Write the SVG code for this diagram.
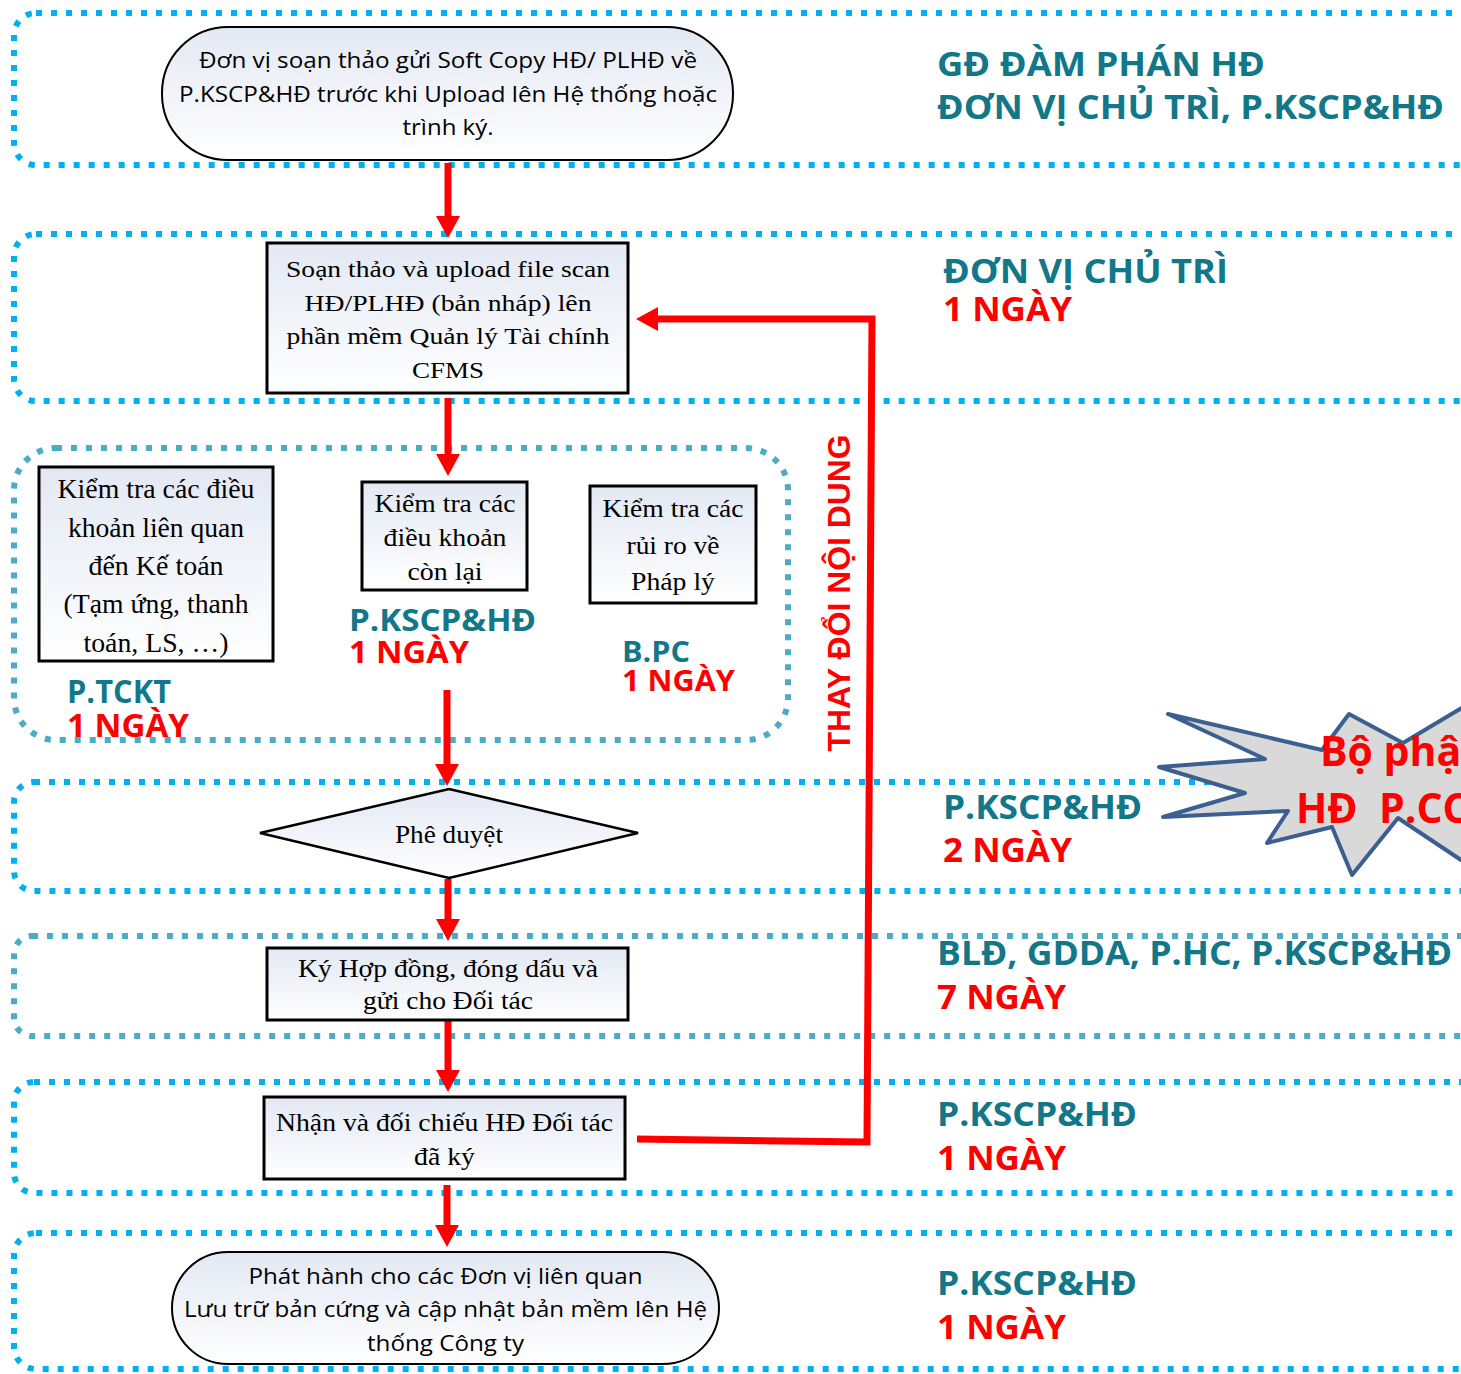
<svg xmlns="http://www.w3.org/2000/svg" width="1461" height="1374" viewBox="0 0 1461 1374">
  <defs>
    <linearGradient id="nodeFill" x1="0" y1="0" x2="0" y2="1">
      <stop offset="0" stop-color="#E3E8F3"/>
      <stop offset="1" stop-color="#FFFFFF"/>
    </linearGradient>
    <marker id="arrowHead" viewBox="0 0 22 24" refX="4" refY="12" markerWidth="22" markerHeight="24" markerUnits="userSpaceOnUse" orient="auto">
      <path d="M0,0 L22,12 L0,24 z" fill="#FF0000"/>
    </marker>
    <style>
      .band { fill: none; stroke-width: 6; stroke-dasharray: 6 9; }
      .bright { stroke: #00B0F0; }
      .teal { stroke: #4BACC6; }
      .node { fill: url(#nodeFill); stroke: #000; }
      .sans { font-family: "Open Sans", "Noto Sans", "DejaVu Sans", sans-serif; font-size: 21px; fill: #000; }
      .serif { font-family: "Liberation Serif", "DejaVu Serif", serif; fill: #000; }
      .lbl { font-family: "Open Sans", "Noto Sans", "DejaVu Sans", sans-serif; font-weight: bold; }
      .who { fill: #127789; }
      .days { fill: #FF0000; }
      .flow { fill: none; stroke: #FF0000; stroke-width: 7; marker-end: url(#arrowHead); }
    </style>
  </defs>

  <rect width="1461" height="1374" fill="#FFFFFF"/>

  <!-- swimlane bands -->
  <g id="bands">
    <rect class="band bright" x="14" y="13" width="1500" height="152" rx="22"/>
    <rect class="band bright" x="14" y="234" width="1500" height="167" rx="22"/>
    <rect class="band teal" x="14" y="448" width="774" height="292" rx="42"/>
    <rect class="band bright" x="14" y="782" width="1500" height="109" rx="20"/>
    <rect class="band teal" x="14" y="936" width="1500" height="100" rx="18"/>
    <rect class="band bright" x="14" y="1082" width="1500" height="111" rx="20"/>
    <rect class="band bright" x="14" y="1233" width="1500" height="136" rx="22"/>
  </g>

  <!-- lane labels -->
  <g id="lane-labels" class="lbl" font-size="34">
    <text class="who" x="937" y="76" textLength="328" lengthAdjust="spacingAndGlyphs">GĐ ĐÀM PHÁN HĐ</text>
    <text class="who" x="937" y="119" textLength="507" lengthAdjust="spacingAndGlyphs">ĐƠN VỊ CHỦ TRÌ, P.KSCP&amp;HĐ</text>

    <text class="who" x="943" y="283" textLength="285" lengthAdjust="spacingAndGlyphs">ĐƠN VỊ CHỦ TRÌ</text>
    <text class="days" x="943" y="321" textLength="129" lengthAdjust="spacingAndGlyphs">1 NGÀY</text>

    <text class="who" x="67" y="703" font-size="32" textLength="104" lengthAdjust="spacingAndGlyphs">P.TCKT</text>
    <text class="days" x="67" y="737" font-size="32" textLength="122" lengthAdjust="spacingAndGlyphs">1 NGÀY</text>

    <text class="who" x="349" y="631" font-size="31" textLength="187" lengthAdjust="spacingAndGlyphs">P.KSCP&amp;HĐ</text>
    <text class="days" x="349" y="663" font-size="31" textLength="120" lengthAdjust="spacingAndGlyphs">1 NGÀY</text>

    <text class="who" x="622" y="662" font-size="29" textLength="68" lengthAdjust="spacingAndGlyphs">B.PC</text>
    <text class="days" x="622" y="691" font-size="29" textLength="113" lengthAdjust="spacingAndGlyphs">1 NGÀY</text>

    <text class="who" x="943" y="819" textLength="199" lengthAdjust="spacingAndGlyphs">P.KSCP&amp;HĐ</text>
    <text class="days" x="943" y="862" textLength="129" lengthAdjust="spacingAndGlyphs">2 NGÀY</text>

    <text class="who" x="937" y="965" textLength="515" lengthAdjust="spacingAndGlyphs">BLĐ, GDDA, P.HC, P.KSCP&amp;HĐ</text>
    <text class="days" x="937" y="1009" textLength="129" lengthAdjust="spacingAndGlyphs">7 NGÀY</text>

    <text class="who" x="937" y="1126" textLength="200" lengthAdjust="spacingAndGlyphs">P.KSCP&amp;HĐ</text>
    <text class="days" x="937" y="1170" textLength="129" lengthAdjust="spacingAndGlyphs">1 NGÀY</text>

    <text class="who" x="937" y="1295" textLength="200" lengthAdjust="spacingAndGlyphs">P.KSCP&amp;HĐ</text>
    <text class="days" x="937" y="1339" textLength="129" lengthAdjust="spacingAndGlyphs">1 NGÀY</text>
  </g>

  <!-- callout burst -->
  <g id="callout">
    <path d="M1168,714 L1322,750 L1349,714 L1403,743 L1475,700 L1475,868 L1461,860 L1398,818 L1352,875 L1332,827 L1267,843 L1288,811 L1163,817 L1245,793 L1159,767 L1265,759 Z" fill="#D9D9D9" stroke="#3B5F8E" stroke-width="4" stroke-linejoin="round"/>
    <text class="lbl days" x="1320" y="766" font-size="41">Bộ phận</text>
    <text class="lbl days" x="1296" y="823" font-size="41" xml:space="preserve">HĐ  P.CC</text>
  </g>

  <!-- connectors -->
  <g id="connectors">
    <line class="flow" x1="448" y1="163" x2="448" y2="220"/>
    <line class="flow" x1="448" y1="398" x2="448" y2="458"/>
    <line class="flow" x1="447" y1="690" x2="447" y2="768"/>
    <line class="flow" x1="448" y1="879" x2="448" y2="923"/>
    <line class="flow" x1="448" y1="1021" x2="448" y2="1074"/>
    <line class="flow" x1="447" y1="1185" x2="447" y2="1229"/>
    <polyline class="flow" points="637,1139 867,1142 872,319 654,319"/>
    <text x="850" y="593" transform="rotate(-90 850 593)" text-anchor="middle" font-family="'Liberation Sans', Arial, sans-serif" font-weight="bold" font-size="31" fill="#FF0000" textLength="317" lengthAdjust="spacingAndGlyphs">THAY ĐỔI NỘI DUNG</text>
  </g>

  <!-- process nodes -->
  <g id="n-send-softcopy">
    <rect class="node" x="162" y="27" width="571" height="133" rx="66" stroke-width="2"/>
    <g class="sans" text-anchor="middle">
      <text x="448" y="68" textLength="498" lengthAdjust="spacingAndGlyphs">Đơn vị soạn thảo gửi Soft Copy HĐ/ PLHĐ về</text>
      <text x="448" y="102" textLength="538" lengthAdjust="spacingAndGlyphs">P.KSCP&amp;HĐ trước khi Upload lên Hệ thống hoặc</text>
      <text x="448" y="135" textLength="91" lengthAdjust="spacingAndGlyphs">trình ký.</text>
    </g>
  </g>

  <g id="n-upload-cfms">
    <rect class="node" x="267" y="243" width="361" height="150" stroke-width="3"/>
    <g class="serif" text-anchor="middle" font-size="24">
      <text x="448" y="277" textLength="324" lengthAdjust="spacingAndGlyphs">Soạn thảo và upload file scan</text>
      <text x="448" y="311" textLength="287" lengthAdjust="spacingAndGlyphs">HĐ/PLHĐ (bản nháp) lên</text>
      <text x="448" y="344" textLength="323" lengthAdjust="spacingAndGlyphs">phần mềm Quản lý Tài chính</text>
      <text x="448" y="378" textLength="72" lengthAdjust="spacingAndGlyphs">CFMS</text>
    </g>
  </g>

  <g id="n-check-accounting">
    <rect class="node" x="39" y="467" width="234" height="194" stroke-width="3"/>
    <g class="serif" text-anchor="middle" font-size="27">
      <text x="156" y="498" textLength="197" lengthAdjust="spacingAndGlyphs">Kiểm tra các điều</text>
      <text x="156" y="537" textLength="176" lengthAdjust="spacingAndGlyphs">khoản liên quan</text>
      <text x="156" y="575" textLength="135" lengthAdjust="spacingAndGlyphs">đến Kế toán</text>
      <text x="156" y="613" textLength="185" lengthAdjust="spacingAndGlyphs">(Tạm ứng, thanh</text>
      <text x="156" y="652" textLength="145" lengthAdjust="spacingAndGlyphs">toán, LS, …)</text>
    </g>
  </g>

  <g id="n-check-remaining">
    <rect class="node" x="362" y="482" width="165" height="108" stroke-width="3"/>
    <g class="serif" text-anchor="middle" font-size="26">
      <text x="445" y="512" textLength="141" lengthAdjust="spacingAndGlyphs">Kiểm tra các</text>
      <text x="445" y="546" textLength="123" lengthAdjust="spacingAndGlyphs">điều khoản</text>
      <text x="445" y="580" textLength="75" lengthAdjust="spacingAndGlyphs">còn lại</text>
    </g>
  </g>

  <g id="n-check-legal">
    <rect class="node" x="590" y="486" width="166" height="117" stroke-width="3"/>
    <g class="serif" text-anchor="middle" font-size="26">
      <text x="673" y="517" textLength="141" lengthAdjust="spacingAndGlyphs">Kiểm tra các</text>
      <text x="673" y="554" textLength="93" lengthAdjust="spacingAndGlyphs">rủi ro về</text>
      <text x="673" y="590" textLength="84" lengthAdjust="spacingAndGlyphs">Pháp lý</text>
    </g>
  </g>

  <g id="n-approve">
    <polygon class="node" points="449,789 638,833 449,878 260,833" stroke-width="2.5"/>
    <text class="serif" x="449" y="843" font-size="25" text-anchor="middle" textLength="108" lengthAdjust="spacingAndGlyphs">Phê duyệt</text>
  </g>

  <g id="n-sign">
    <rect class="node" x="267" y="948" width="361" height="72" stroke-width="3"/>
    <g class="serif" text-anchor="middle" font-size="25">
      <text x="448" y="977" textLength="300" lengthAdjust="spacingAndGlyphs">Ký Hợp đồng, đóng dấu và</text>
      <text x="448" y="1009" textLength="170" lengthAdjust="spacingAndGlyphs">gửi cho Đối tác</text>
    </g>
  </g>

  <g id="n-receive">
    <rect class="node" x="264" y="1097" width="361" height="82" stroke-width="3"/>
    <g class="serif" text-anchor="middle" font-size="25">
      <text x="444.5" y="1131" textLength="337" lengthAdjust="spacingAndGlyphs">Nhận và đối chiếu HĐ Đối tác</text>
      <text x="444.5" y="1165" textLength="61" lengthAdjust="spacingAndGlyphs">đã ký</text>
    </g>
  </g>

  <g id="n-release">
    <rect class="node" x="172" y="1252" width="547" height="112" rx="56" stroke-width="2"/>
    <g class="sans" text-anchor="middle">
      <text x="445.5" y="1284" textLength="394" lengthAdjust="spacingAndGlyphs">Phát hành cho các Đơn vị liên quan</text>
      <text x="445.5" y="1317" textLength="523" lengthAdjust="spacingAndGlyphs">Lưu trữ bản cứng và cập nhật bản mềm lên Hệ</text>
      <text x="445.5" y="1351" textLength="157" lengthAdjust="spacingAndGlyphs">thống Công ty</text>
    </g>
  </g>
</svg>
